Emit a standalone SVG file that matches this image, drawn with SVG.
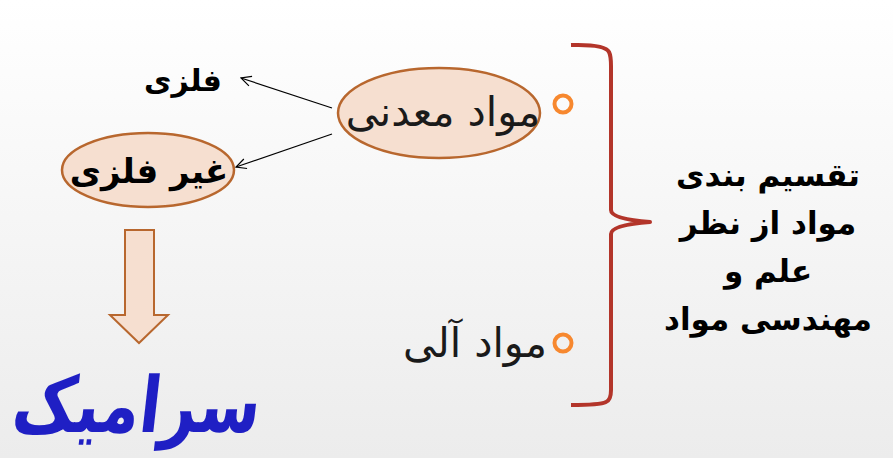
<svg xmlns="http://www.w3.org/2000/svg" width="893" height="458" viewBox="0 0 893 458">
<defs>
<linearGradient id="bg" x1="0" y1="0" x2="0" y2="1">
<stop offset="0" stop-color="#ffffff"/>
<stop offset="1" stop-color="#ececec"/>
</linearGradient>
<marker id="open" viewBox="0 0 12 12" refX="11" refY="6" markerWidth="12" markerHeight="12" markerUnits="userSpaceOnUse" orient="auto">
<path d="M1,1 L11,6 L1,11" fill="none" stroke="#000" stroke-width="1.2"/>
</marker>
<style>
.t{font-family:"DejaVu Sans",sans-serif;fill:#1a1a1a;text-anchor:middle}
.b{font-weight:bold;fill:#000}
.ell{fill:#f6dfd0;stroke:#b8672e;stroke-width:2.5}
.bul{fill:none;stroke:#f7882f;stroke-width:4}
.con{stroke:#000;stroke-width:1.2;fill:none}
</style>
</defs>
<rect width="893" height="458" fill="url(#bg)"/>

<g id="brace">
<path d="M571,45 Q605,44 609,52 Q611,56 611,66 L611,210 Q611,219 650,222 Q611,225 611,234 L611,390 Q611,400 606,402 Q600,405 571,405" fill="none" stroke="#b3352a" stroke-width="4" stroke-linejoin="round"/>
</g>

<g id="title">
<text class="t b" font-size="31" x="768" y="186">تقسیم بندی</text>
<text class="t b" font-size="31" x="768" y="234">مواد از نظر</text>
<text class="t b" font-size="31" x="768" y="282">علم و</text>
<text class="t b" font-size="31" x="768" y="330">مهندسی مواد</text>
</g>

<g id="madani">
<ellipse class="ell" cx="439" cy="113" rx="101" ry="45"/>
<text class="t" font-size="41" x="443" y="126">مواد معدنی</text>
<circle class="bul" cx="563" cy="104" r="8.5"/>
</g>

<g id="ali">
<text class="t" font-size="41" x="475" y="357">مواد آلی</text>
<circle class="bul" cx="563" cy="343" r="8.5"/>
</g>

<g id="felezi">
<text class="t b" font-size="30" x="183" y="91">فلزی</text>
</g>

<g id="gheirfelezi">
<ellipse class="ell" cx="148" cy="170" rx="86" ry="37"/>
<text class="t b" font-size="34" x="149" y="183">غیر فلزی</text>
</g>

<g id="bigarrow">
<path d="M125,230 L154,230 L154,315 L168,315 L139,343 L110,315 L125,315 Z" fill="#f6dfd0" stroke="#b8672e" stroke-width="2"/>
</g>

<g id="ceramic">
<text class="t b" font-size="62" transform="translate(134,432) scale(1,1.25) skewX(-8)" x="0" y="0" style="fill:#1f1fc4">سرامیک</text>
</g>

<g id="connectors">
<line class="con" x1="332" y1="108" x2="241" y2="78" marker-end="url(#open)"/>
<line class="con" x1="332" y1="134" x2="236" y2="167" marker-end="url(#open)"/>
</g>
</svg>
